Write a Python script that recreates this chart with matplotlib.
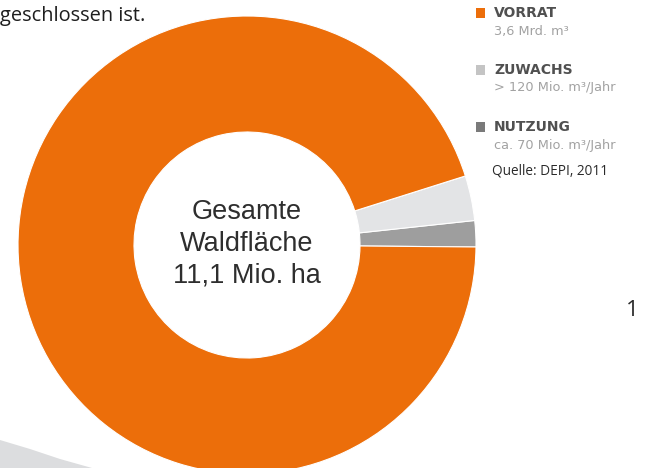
import matplotlib.pyplot as plt
from matplotlib.patches import Polygon, Rectangle

# data (volumes in Mio. m3)
labels = ['VORRAT', 'ZUWACHS', 'NUTZUNG']
sublabels = ['3,6 Mrd. m\u00b3', '> 120 Mio. m\u00b3/Jahr', 'ca. 70 Mio. m\u00b3/Jahr']
values = [3600, 120, 70]
colors = ['#EC6E0A', '#E3E4E6', '#9E9E9E']
legend_colors = ['#EC6E0A', '#C4C4C4', '#7A7A7A']

W, H = 647, 468
fig = plt.figure(figsize=(W / 100, H / 100), dpi=100)

# light gray band in the lower left corner
band = Polygon([(0, 0), (0, 28 / H), (30 / W, 19 / H), (60 / W, 9 / H), (92 / W, 0)],
               closed=True, transform=fig.transFigure, facecolor='#DCDDDF',
               edgecolor='none')
fig.patches.append(band)

# donut: centre (247, 245) px, outer radius 229 px
cx, cy, r = 247, H - 245, 229
ax = fig.add_axes([(cx - r) / W, (cy - r) / H, 2 * r / W, 2 * r / H])
ax.pie(values[::-1], colors=colors[::-1], startangle=-0.5, counterclock=True,
       radius=1, wedgeprops=dict(width=1 - 113 / 229, edgecolor='white',
                                 linewidth=0.8))
ax.set_xlim(-1, 1)
ax.set_ylim(-1, 1)
ax.set_aspect('equal')
ax.axis('off')

ax.text(0, 0.005, 'Gesamte\nWaldfl\u00e4che\n11,1 Mio. ha', ha='center', va='center',
        fontsize=19.5, color='#2E2E2E', family='Liberation Sans',
        linespacing=1.27)

# text outside the chart
fig.text(0, 1 - 16 / H, 'geschlossen ist.', ha='left', va='center',
         fontsize=14.4, color='#1E1E1E', family='Open Sans')

for i, (lab, sub) in enumerate(zip(labels, sublabels)):
    yl = 13 + i * 57
    fig.patches.append(Rectangle((476 / W, 1 - (yl + 4.5) / H), 9 / W, 9 / H,
                                 transform=fig.transFigure,
                                 facecolor=legend_colors[i], edgecolor='none'))
    fig.text(494 / W, 1 - yl / H, lab, ha='left', va='center', fontsize=10,
             fontweight='bold', color='#505050', family='DejaVu Sans')
    fig.text(494 / W, 1 - (yl + 18) / H, sub, ha='left', va='center',
             fontsize=9.3, color='#A2A2A2', family='DejaVu Sans')

fig.text(492 / W, 1 - 171 / H, 'Quelle: DEPI, 2011', ha='left', va='center',
         fontsize=9.8, color='#2A2A2A', family='Open Sans')
fig.text(632 / W, 1 - 311 / H, '1', ha='center', va='center',
         fontsize=16, color='#2A2A2A', family='Open Sans')

fig.savefig('out.png', dpi=100)
